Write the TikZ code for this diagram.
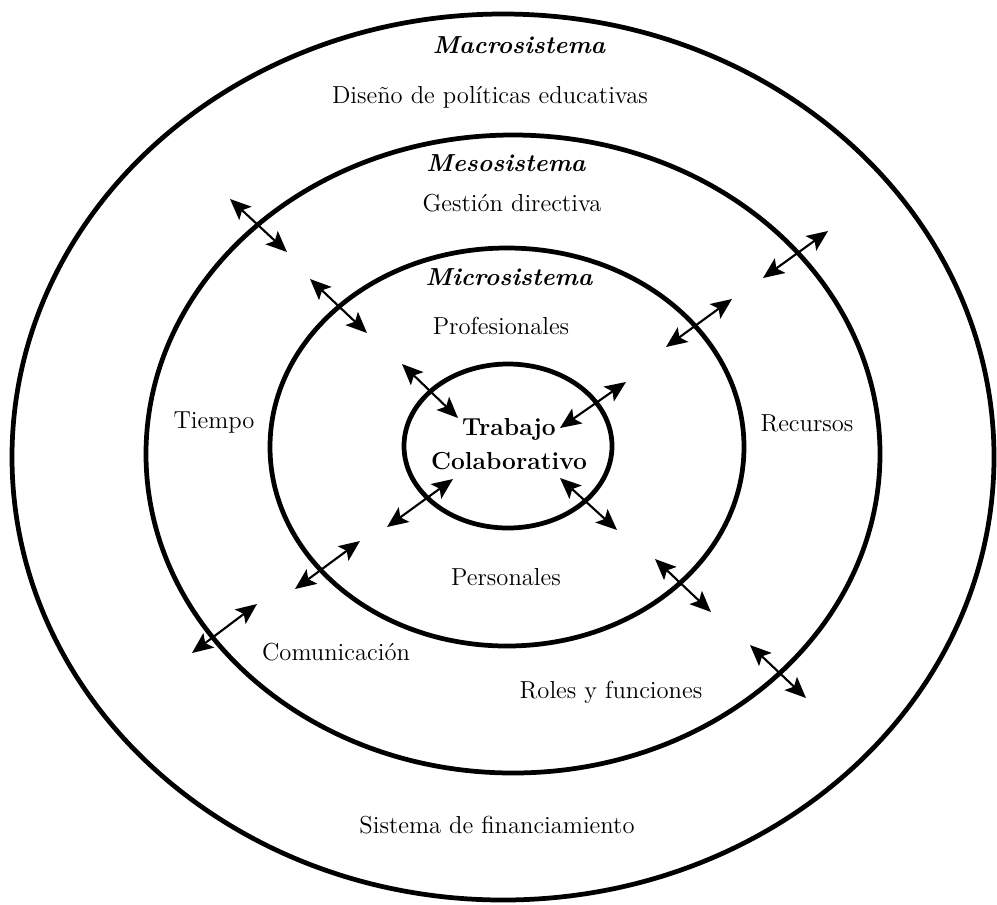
\documentclass[tikz,border=0pt]{standalone}
\usepackage{tikz}
\usetikzlibrary{arrows.meta}
\tikzstyle{ring} = [line width=2.7pt]
\tikzstyle{nivel} = [font=\fontsize{14}{19}\selectfont\bfseries\itshape, inner sep=0pt]
\tikzstyle{factor} = [font=\fontsize{14}{19}\selectfont, inner sep=0pt]
\tikzstyle{arrow} = [line width=1.2pt, {Stealth[length=4.2mm,width=3.6mm,inset=0.9mm]}-{Stealth[length=4.2mm,width=3.6mm,inset=0.9mm]}]

\begin{document}
\begin{tikzpicture}[x=0.02cm, y=-0.02cm]
	\useasboundingbox (0,0) rectangle (997,904);
	% sistemas
	\draw [ring] (503,457) ellipse [x radius=491, y radius=443];
	\draw [ring] (513,454) ellipse [x radius=367, y radius=319];
	\draw [ring] (507,447) ellipse [x radius=237, y radius=199];
	\draw [ring] (508,446) ellipse [x radius=104, y radius=82];
	% textos
	\node (macro) [nivel] at (519,45) {Macrosistema};
	\node (disenio) [factor] at (490,97) {Diseño de políticas educativas};
	\node (meso) [nivel] at (506,163) {Mesosistema};
	\node (gestion) [factor] at (512,203) {Gestión directiva};
	\node (micro) [nivel] at (509,277) {Microsistema};
	\node (prof) [factor] at (501,326) {Profesionales};
	\node (tiempo) [factor] at (214,423) {Tiempo};
	\node (recursos) [factor] at (807,423) {Recursos};
	\node (trabajo) [factor, font=\fontsize{14}{19}\selectfont\bfseries, align=center] at (509,444) {Trabajo\\Colaborativo};
	\node (pers) [factor] at (506,577) {Personales};
	\node (comun) [factor] at (336,652) {Comunicación};
	\node (roles) [factor] at (611,692) {Roles y funciones};
	\node (financ) [factor] at (497,825) {Sistema de financiamiento};
	% extremos de las flechas
	\coordinate (meso-nw-a) at (230,199); \coordinate (meso-nw-b) at (287,252);
	\coordinate (meso-ne-a) at (828,231); \coordinate (meso-ne-b) at (763,278);
	\coordinate (meso-sw-a) at (257,604); \coordinate (meso-sw-b) at (192,653);
	\coordinate (meso-se-a) at (750,645); \coordinate (meso-se-b) at (806,698);
	\coordinate (micro-nw-a) at (310,279); \coordinate (micro-nw-b) at (367,333);
	\coordinate (micro-ne-a) at (732,299); \coordinate (micro-ne-b) at (666,347);
	\coordinate (micro-sw-a) at (360,541); \coordinate (micro-sw-b) at (295,589);
	\coordinate (micro-se-a) at (655,559); \coordinate (micro-se-b) at (711,612);
	\coordinate (centro-nw-a) at (402,364); \coordinate (centro-nw-b) at (458,418);
	\coordinate (centro-ne-a) at (626,382); \coordinate (centro-ne-b) at (560,428);
	\coordinate (centro-sw-a) at (453,479); \coordinate (centro-sw-b) at (387,527);
	\coordinate (centro-se-a) at (560,478); \coordinate (centro-se-b) at (617,530);
	% flechas
	\draw [arrow] (meso-nw-a) -- (meso-nw-b);
	\draw [arrow] (meso-ne-a) -- (meso-ne-b);
	\draw [arrow] (meso-sw-a) -- (meso-sw-b);
	\draw [arrow] (meso-se-a) -- (meso-se-b);
	\draw [arrow] (micro-nw-a) -- (micro-nw-b);
	\draw [arrow] (micro-ne-a) -- (micro-ne-b);
	\draw [arrow] (micro-sw-a) -- (micro-sw-b);
	\draw [arrow] (micro-se-a) -- (micro-se-b);
	\draw [arrow] (centro-nw-a) -- (centro-nw-b);
	\draw [arrow] (centro-ne-a) -- (centro-ne-b);
	\draw [arrow] (centro-sw-a) -- (centro-sw-b);
	\draw [arrow] (centro-se-a) -- (centro-se-b);
\end{tikzpicture}
\end{document}
